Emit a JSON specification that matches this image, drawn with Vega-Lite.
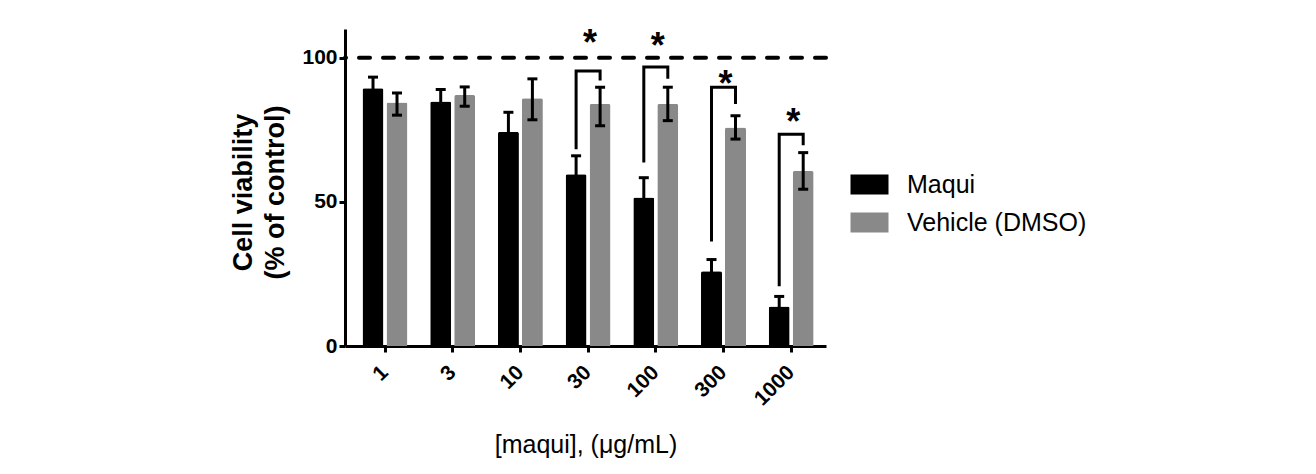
{
  "$schema": "https://vega.github.io/schema/vega-lite/v6.json",
  "autosize": "none",
  "width": 481,
  "height": 317,
  "padding": {"left": 345, "top": 29, "right": 490, "bottom": 128},
  "background": "white",
  "config": {"view": {"stroke": null}, "font": "Liberation Sans"},
  "datasets": {
    "bars": [
      {"dose": "1", "group": "Maqui", "mean": 89.4, "lo": 85.5, "hi": 93.3},
      {"dose": "1", "group": "Vehicle (DMSO)", "mean": 84.5, "lo": 80.1, "hi": 87.8},
      {"dose": "3", "group": "Maqui", "mean": 84.8, "lo": 80.6, "hi": 89.0},
      {"dose": "3", "group": "Vehicle (DMSO)", "mean": 87.1, "lo": 83.2, "hi": 89.9},
      {"dose": "10", "group": "Maqui", "mean": 74.3, "lo": 67.5, "hi": 81.1},
      {"dose": "10", "group": "Vehicle (DMSO)", "mean": 86.0, "lo": 78.5, "hi": 92.7},
      {"dose": "30", "group": "Maqui", "mean": 59.6, "lo": 53.2, "hi": 66.0},
      {"dose": "30", "group": "Vehicle (DMSO)", "mean": 84.0, "lo": 76.4, "hi": 89.8},
      {"dose": "100", "group": "Maqui", "mean": 51.5, "lo": 44.6, "hi": 58.4},
      {"dose": "100", "group": "Vehicle (DMSO)", "mean": 84.0, "lo": 78.2, "hi": 89.8},
      {"dose": "300", "group": "Maqui", "mean": 25.9, "lo": 21.8, "hi": 30.0},
      {"dose": "300", "group": "Vehicle (DMSO)", "mean": 75.8, "lo": 71.8, "hi": 79.9},
      {"dose": "1000", "group": "Maqui", "mean": 13.7, "lo": 10.2, "hi": 17.2},
      {"dose": "1000", "group": "Vehicle (DMSO)", "mean": 60.7, "lo": 54.4, "hi": 67.1}
    ],
    "brackets": [
      {"dose": "30", "group": "Maqui", "y": 68.3, "step": 1},
      {"dose": "30", "group": "Maqui", "y": 95.4, "step": 2},
      {"dose": "30", "group": "Vehicle (DMSO)", "y": 95.4, "step": 3},
      {"dose": "30", "group": "Vehicle (DMSO)", "y": 92.1, "step": 4},
      {"dose": "100", "group": "Maqui", "y": 63.7, "step": 1},
      {"dose": "100", "group": "Maqui", "y": 96.8, "step": 2},
      {"dose": "100", "group": "Vehicle (DMSO)", "y": 96.8, "step": 3},
      {"dose": "100", "group": "Vehicle (DMSO)", "y": 92.7, "step": 4},
      {"dose": "300", "group": "Maqui", "y": 36.3, "step": 1},
      {"dose": "300", "group": "Maqui", "y": 89.8, "step": 2},
      {"dose": "300", "group": "Vehicle (DMSO)", "y": 89.8, "step": 3},
      {"dose": "300", "group": "Vehicle (DMSO)", "y": 84.0, "step": 4},
      {"dose": "1000", "group": "Maqui", "y": 20.7, "step": 1},
      {"dose": "1000", "group": "Maqui", "y": 73.5, "step": 2},
      {"dose": "1000", "group": "Vehicle (DMSO)", "y": 73.5, "step": 3},
      {"dose": "1000", "group": "Vehicle (DMSO)", "y": 69.7, "step": 4}
    ],
    "stars": [
      {"dose": "30", "y": 107.8, "label": "*"},
      {"dose": "100", "y": 107.0, "label": "*"},
      {"dose": "300", "y": 93.8, "label": "*"},
      {"dose": "1000", "y": 80.4, "label": "*"}
    ],
    "ref": [{"control": 100}]
  },
  "encoding": {
    "x": {
      "field": "dose",
      "type": "nominal",
      "sort": ["1", "3", "10", "30", "100", "300", "1000"],
      "scale": {"paddingInner": 0.3, "paddingOuter": 0.2025, "align": 0.595},
      "axis": {
        "title": "[maqui], (μg/mL)",
        "titleFont": "Liberation Sans",
        "titleFontSize": 25,
        "titleFontWeight": "normal",
        "titleColor": "black",
        "titleX": 240.5,
        "titleY": 106,
        "titleAlign": "center",
        "titleBaseline": "alphabetic",
        "labelAngle": -45,
        "labelAlign": "right",
        "labelBaseline": "middle",
        "labelFontSize": 21,
        "labelFontWeight": "bold",
        "labelColor": "black",
        "labelPadding": 17,
        "tickSize": 6,
        "tickWidth": 3,
        "tickColor": "black",
        "domainWidth": 3,
        "domainColor": "black",
        "grid": false
      }
    },
    "y": {
      "type": "quantitative",
      "scale": {"domain": [0, 110], "nice": false, "zero": true},
      "axis": {
        "values": [0, 50, 100],
        "title": ["Cell viability", "(% of control)"],
        "titleFont": "Liberation Sans",
        "titleFontSize": 27,
        "titleFontWeight": "bold",
        "titleColor": "black",
        "titleLineHeight": 32,
        "titleAngle": -90,
        "titleX": -94,
        "titleY": 163,
        "titleAlign": "center",
        "titleBaseline": "alphabetic",
        "labelFontSize": 21,
        "labelFontWeight": "bold",
        "labelColor": "black",
        "labelPadding": 2,
        "tickSize": 6,
        "tickWidth": 3,
        "tickColor": "black",
        "domainWidth": 3,
        "domainColor": "black",
        "grid": false
      }
    }
  },
  "layer": [
    {
      "data": {"name": "bars"},
      "mark": {"type": "bar", "cornerRadiusEnd": 2},
      "encoding": {
        "xOffset": {"field": "group", "type": "nominal", "sort": ["Maqui", "Vehicle (DMSO)"], "scale": {"paddingInner": 0.125, "paddingOuter": 0.05}},
        "y": {"field": "mean", "type": "quantitative"},
        "color": {
          "field": "group",
          "type": "nominal",
          "scale": {"domain": ["Maqui", "Vehicle (DMSO)"], "range": ["#000000", "#898989"]},
          "legend": {
            "title": null,
            "orient": "none",
            "legendX": 512,
            "legendY": 143,
            "symbolType": "M-1.9,-1H1.9V1H-1.9Z",
            "symbolSize": 400,
            "symbolStrokeWidth": 0,
            "symbolOpacity": 1,
            "labelFont": "Liberation Sans",
            "labelFontSize": 25,
            "labelColor": "black",
            "labelOffset": 25,
            "labelLimit": 0,
            "rowPadding": 12
          }
        }
      }
    },
    {
      "data": {"name": "bars"},
      "mark": {"type": "rule", "color": "black", "strokeWidth": 3},
      "encoding": {
        "xOffset": {"field": "group", "type": "nominal", "sort": ["Maqui", "Vehicle (DMSO)"]},
        "y": {"field": "lo", "type": "quantitative"},
        "y2": {"field": "hi"}
      }
    },
    {
      "data": {"name": "bars"},
      "mark": {"type": "tick", "color": "black", "size": 10, "thickness": 3, "orient": "horizontal", "opacity": 1},
      "encoding": {
        "xOffset": {"field": "group", "type": "nominal", "sort": ["Maqui", "Vehicle (DMSO)"]},
        "y": {"field": "hi", "type": "quantitative"}
      }
    },
    {
      "data": {"name": "bars"},
      "mark": {"type": "tick", "color": "black", "size": 10, "thickness": 3, "orient": "horizontal", "opacity": 1},
      "encoding": {
        "xOffset": {"field": "group", "type": "nominal", "sort": ["Maqui", "Vehicle (DMSO)"]},
        "y": {"field": "lo", "type": "quantitative"}
      }
    },
    {
      "data": {"name": "brackets"},
      "mark": {"type": "line", "color": "black", "strokeWidth": 3, "strokeJoin": "miter", "strokeCap": "butt"},
      "encoding": {
        "xOffset": {"field": "group", "type": "nominal", "sort": ["Maqui", "Vehicle (DMSO)"]},
        "y": {"field": "y", "type": "quantitative"},
        "detail": {"field": "dose"},
        "order": {"field": "step", "type": "quantitative"}
      }
    },
    {
      "data": {"name": "stars"},
      "mark": {"type": "text", "fontSize": 36, "fontWeight": "bold", "font": "Liberation Sans", "baseline": "alphabetic", "align": "center", "dy": 20, "dx": 2, "color": "black"},
      "encoding": {
        "y": {"field": "y", "type": "quantitative"},
        "text": {"field": "label"}
      }
    },
    {
      "data": {"name": "ref"},
      "mark": {"type": "rule", "color": "black", "strokeWidth": 4, "strokeDash": [11, 13], "strokeCap": "round"},
      "encoding": {"y": {"field": "control", "type": "quantitative"}, "x": null}
    }
  ]
}
